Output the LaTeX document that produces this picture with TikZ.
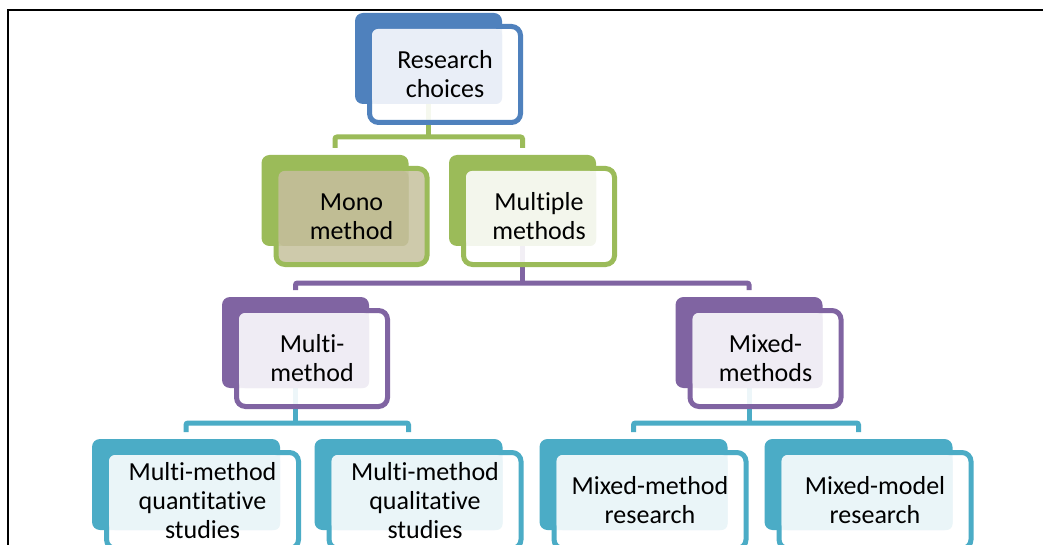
\documentclass[tikz,border=0pt]{standalone}
\usepackage{fontspec}
\setmainfont[Ligatures={NoCommon}]{Carlito}
\pgfdeclarelayer{paper}
\pgfdeclarelayer{bg}
\pgfsetlayers{paper,bg,main}
\definecolor{cblue}{HTML}{4F81BD}
\definecolor{lblue}{HTML}{E9EEF7}
\definecolor{cgreen}{HTML}{9BBB59}
\definecolor{lgreen}{HTML}{F3F6EC}
\definecolor{cpurple}{HTML}{8064A2}
\definecolor{lpurple}{HTML}{EFECF4}
\definecolor{cteal}{HTML}{4BACC6}
\definecolor{lteal}{HTML}{EAF5F8}
\definecolor{khakifront}{HTML}{C9C5A2}
\definecolor{khakiover}{HTML}{C0BD94}
\tikzset{
  backbox/.style={rectangle, rounded corners=8pt, inner sep=0pt, outer sep=0pt, minimum height=91pt},
  frontbox/.style={rectangle, rounded corners=9pt, inner sep=0pt, outer sep=0pt, minimum height=96pt, line width=5pt, fill opacity=0.9},
  txt/.style={align=center, inner sep=0pt, font=\fontsize{26}{29}\selectfont, text=black},
  conn/.style={line width=5pt, rounded corners=2pt},
}
% #1 name, #2 back centre x, #3 back top y, #4 back width, #5 dark, #6 light, #7 front fill, #8 text
\newcommand\smbox[8]{%
  \node[backbox, fill=#5, minimum width=#4pt] (#1) at (#2, {#3+45.5}) {};
  \node[frontbox, draw=#5, fill=#7, minimum width=#4pt+4pt] (#1f) at ([shift={(16.5,16)}]#1.center) {};
  \fill[#6, rounded corners=6pt] ([shift={(2.5,2.5)}]#1f.north west) rectangle (#1.south east);
  \node[txt] (#1t) at (#1f.center) {#8};
}
\begin{document}
\begin{tikzpicture}[x=1pt,y=-1pt]
\useasboundingbox (0,0) rectangle (1043,545);
\clip (0,0) rectangle (1043,545);
\begin{pgfonlayer}{paper}
  \fill[white] (0,0) rectangle (1043,545);
\end{pgfonlayer}
\draw[black, line width=1.8pt] (8,545) -- (8,10) -- (1043,10);

\smbox{rc}{428.5}{13}{147}{cblue}{lblue}{white}{Research\\choices}
\smbox{mono}{335}{155}{147}{cgreen}{khakiover}{khakifront}{Mono\\method}
\smbox{mult}{522.5}{155}{147}{cgreen}{lgreen}{white}{Multiple\\methods}
\smbox{multi}{295.5}{297}{147}{cpurple}{lpurple}{white}{Multi-\\method}
\smbox{mixed}{749}{297}{147}{cpurple}{lpurple}{white}{Mixed-\\methods}
\smbox{quant}{186}{439}{188}{cteal}{lteal}{white}{Multi-method\\quantitative\\studies}
\smbox{qual}{408.5}{439}{188}{cteal}{lteal}{white}{Multi-method\\qualitative\\studies}
\smbox{mmr}{633.5}{439}{188}{cteal}{lteal}{white}{Mixed-method\\research}
\smbox{mmod}{858.5}{439}{188}{cteal}{lteal}{white}{Mixed-model\\research}

\coordinate (j1) at (428.5,137);
\coordinate (j2) at (522.5,283);
\coordinate (j3) at (295.5,423);
\coordinate (j4) at (749,423);

\begin{pgfonlayer}{bg}
  \draw[conn, cgreen] (rc.south) -- (j1);
  \draw[conn, cgreen] ([shift={(0,-7)}]mono.north) |- (j1) -| ([shift={(0,-7)}]mult.north);
  \draw[conn, cpurple] (mult.south) -- (j2);
  \draw[conn, cpurple] ([shift={(0,-7)}]multi.north) |- (j2) -| ([shift={(0,-7)}]mixed.north);
  \draw[conn, cteal] (multi.south) -- (j3);
  \draw[conn, cteal] ([shift={(0,-7)}]quant.north) |- (j3) -| ([shift={(0,-7)}]qual.north);
  \draw[conn, cteal] (mixed.south) -- (j4);
  \draw[conn, cteal] ([shift={(0,-7)}]mmr.north) |- (j4) -| ([shift={(0,-7)}]mmod.north);
\end{pgfonlayer}
\end{tikzpicture}
\end{document}
